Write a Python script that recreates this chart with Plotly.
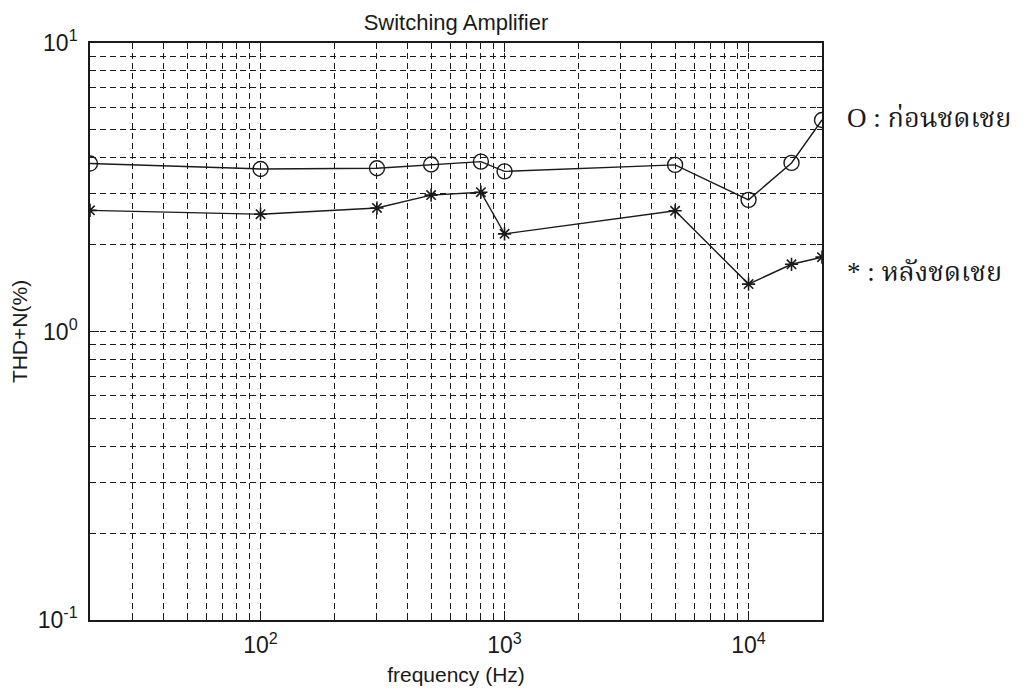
import numpy as np
import plotly.graph_objects as go

# THD+N measurements of the switching amplifier
freq_hz = [20, 100, 300, 500, 800, 1000, 5000, 10000, 15000, 20000]
thd_before = [3.82, 3.66, 3.68, 3.79, 3.88, 3.59, 3.78, 2.86, 3.84, 5.41]   # O : before compensation
thd_after = [2.63, 2.55, 2.68, 2.97, 3.04, 2.18, 2.62, 1.46, 1.71, 1.81]    # * : after compensation

x_major = [100, 1000, 10000]
x_major_text = ["10<sup>2</sup>", "10<sup>3</sup>", "10<sup>4</sup>"]
y_major = [0.1, 1, 10]
y_major_text = ["10<sup>-1</sup>", "10<sup>0</sup>", "10<sup>1</sup>"]

label_before = "O : ก่อนชดเชย"
label_after = "* : หลังชดเชย"

x_minor = [m * 10 ** d for d in (1, 2, 3) for m in range(2, 10) if 20 < m * 10 ** d < 20000]
y_minor = [m * 10 ** d for d in (-1, 0) for m in range(2, 10)]

INK = "#1a1a1a"
SANS = "Liberation Sans, Arial, sans-serif"
TICK_FONT = dict(family=SANS, size=23, color=INK)
GRID_DASH = "6px,4px"

fig = go.Figure()
fig.add_trace(go.Scatter(
    x=freq_hz, y=thd_before, mode="lines+markers",
    line=dict(color=INK, width=1.4),
    marker=dict(symbol="circle-open", size=15, color=INK, line=dict(width=1.4)),
    showlegend=False,
))
fig.add_trace(go.Scatter(
    x=freq_hz, y=thd_after, mode="lines+markers",
    line=dict(color=INK, width=1.4),
    marker=dict(symbol="asterisk-open", size=11, color=INK, line=dict(width=1.6)),
    showlegend=False,
))

axis_common = dict(
    type="log",
    showline=True, linecolor=INK, linewidth=1.6, mirror="ticks",
    ticks="inside", ticklen=9, tickwidth=1.3, tickcolor=INK,
    showgrid=True, gridcolor=INK, gridwidth=1.3, griddash=GRID_DASH,
    tickfont=TICK_FONT, zeroline=False,
)

fig.update_xaxes(
    **axis_common,
    range=[np.log10(20), np.log10(20000)],
    tickmode="array", tickvals=x_major, ticktext=x_major_text,
    ticklabelstandoff=4,
    minor=dict(tickmode="array", tickvals=x_minor, ticks="inside", ticklen=5,
               tickcolor=INK, tickwidth=1.2, showgrid=True, gridcolor=INK,
               gridwidth=1.3, griddash=GRID_DASH),
    title=dict(text="frequency (Hz)", font=dict(family=SANS, size=21, color=INK), standoff=10),
)
fig.update_yaxes(
    **axis_common,
    range=[-1, 1],
    tickmode="array", tickvals=y_major, ticktext=y_major_text,
    ticklabelstandoff=6,
    minor=dict(tickmode="array", tickvals=y_minor, ticks="inside", ticklen=5,
               tickcolor=INK, tickwidth=1.2, showgrid=True, gridcolor=INK,
               gridwidth=1.3, griddash=GRID_DASH),
    title=dict(text="THD+N(%)", font=dict(family=SANS, size=21, color=INK), standoff=4),
)

legend_font = dict(family="Liberation Serif, Noto Serif Thai, Loma, Times New Roman, serif",
                   size=27, color=INK)
fig.add_annotation(x=1.031, y=0.870, xref="paper", yref="paper", text=label_before,
                   showarrow=False, xanchor="left", yanchor="middle", font=legend_font)
fig.add_annotation(x=1.031, y=0.603, xref="paper", yref="paper", text=label_after,
                   showarrow=False, xanchor="left", yanchor="middle", font=legend_font)

fig.update_layout(
    width=1027, height=697,
    margin=dict(l=90, r=205, t=43, b=77),
    paper_bgcolor="white", plot_bgcolor="white",
    title=dict(text="Switching Amplifier", x=0.444, xanchor="center",
               y=1 - 22 / 697, yanchor="middle", yref="container",
               font=dict(family=SANS, size=22, color=INK)),
)

fig.write_html("out.html")
